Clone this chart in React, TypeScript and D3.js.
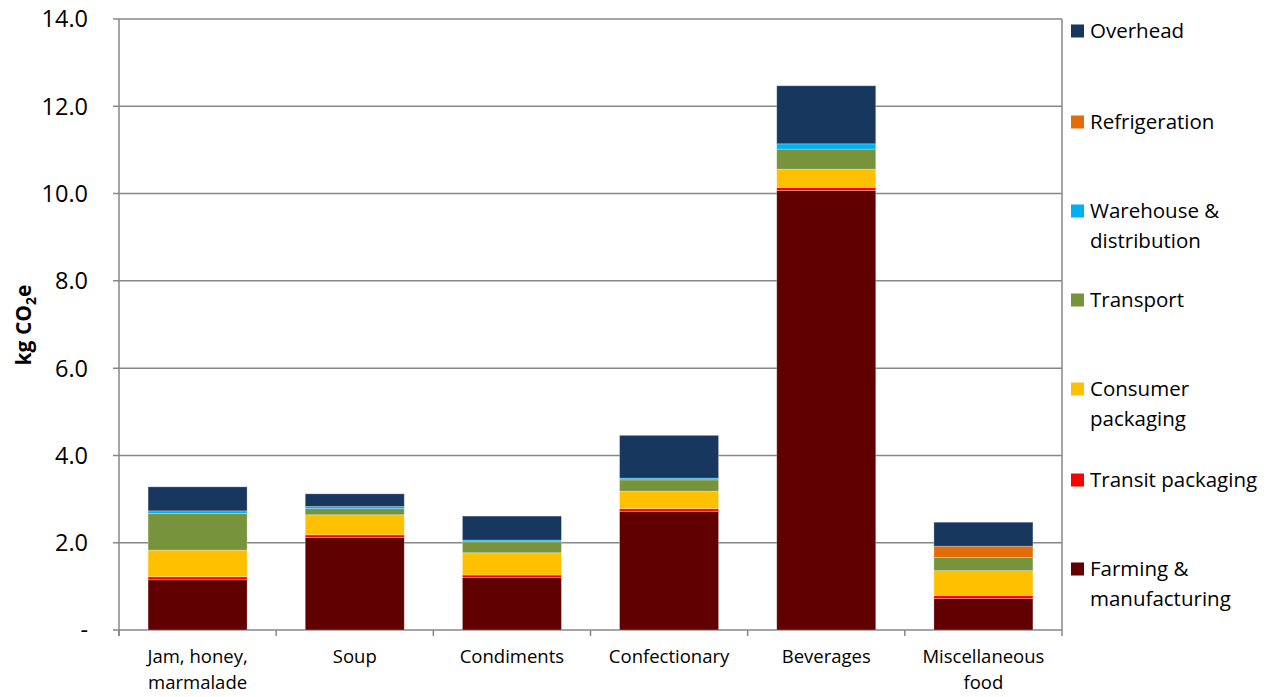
import React from "react";
import * as d3 from "d3";

const categories = [
  ["Jam, honey,", "marmalade"],
  ["Soup"],
  ["Condiments"],
  ["Confectionary"],
  ["Beverages"],
  ["Miscellaneous", "food"],
];

// Stack order, bottom to top
const seriesNames = [
  "Farming & manufacturing",
  "Transit packaging",
  "Consumer packaging",
  "Transport",
  "Warehouse & distribution",
  "Refrigeration",
  "Overhead",
];

const farming = [1.15, 2.12, 1.2, 2.72, 10.07, 0.72];
const transit = [0.07, 0.06, 0.06, 0.06, 0.07, 0.07];
const consumer = [0.61, 0.46, 0.51, 0.4, 0.42, 0.57];
const transport = [0.84, 0.14, 0.25, 0.26, 0.46, 0.3];
const warehouse = [0.06, 0.05, 0.04, 0.04, 0.12, 0.0];
const refrigeration = [0.0, 0.0, 0.0, 0.0, 0.0, 0.26];
const overhead = [0.55, 0.29, 0.55, 0.98, 1.33, 0.55];

const seriesValues = [farming, transit, consumer, transport, warehouse, refrigeration, overhead];
const seriesColors = ["#600000", "#FF0000", "#FFC000", "#77933C", "#00B0F0", "#E36C09", "#17375E"];

const yTicks = [0, 2, 4, 6, 8, 10, 12, 14];

// Legend entries, top to bottom
const legendItems = [
  { lines: ["Overhead"], color: "#17375E" },
  { lines: ["Refrigeration"], color: "#E36C09" },
  { lines: ["Warehouse &", "distribution"], color: "#00B0F0" },
  { lines: ["Transport"], color: "#77933C" },
  { lines: ["Consumer", "packaging"], color: "#FFC000" },
  { lines: ["Transit packaging"], color: "#FF0000" },
  { lines: ["Farming &", "manufacturing"], color: "#600000" },
];
const legendY = [31, 122, 211, 300, 389, 480, 569];

export default function App() {
  const W = 1275;
  const H = 697;
  const left = 119;
  const right = 1062;
  const top = 19;
  const bottom = 630;
  const font = "'Open Sans', 'DejaVu Sans', sans-serif";
  const axisColor = "#878787";

  const x = d3
    .scaleBand<number>()
    .domain(d3.range(categories.length))
    .range([left, right])
    .paddingInner(0.37)
    .paddingOuter(0.185);
  const y = d3.scaleLinear().domain([0, 14]).range([bottom, top]);

  const rows = categories.map((_, i) => {
    const r: Record<string, number> = {};
    seriesNames.forEach((s, k) => (r[s] = seriesValues[k][i]));
    return r;
  });
  const stacked = d3.stack<Record<string, number>>().keys(seriesNames)(rows);

  const catEdges = d3.range(categories.length + 1).map((i) => left + i * ((right - left) / categories.length));

  return (
    <svg width={W} height={H} style={{ display: "block", position: "absolute", left: 0, top: 0 }}>
      <rect width={W} height={H} fill="#fff" />
      {/* gridlines and y tick labels */}
      {yTicks.map((t) => (
        <g key={t}>
          <line x1={left - 6} x2={right} y1={y(t)} y2={y(t)} stroke={axisColor} strokeWidth={1.5} />
          <text
            x={88}
            y={y(t)}
            dy="0.36em"
            textAnchor="end"
            fontFamily={font}
            fontSize={23.5}
            fill="#000"
          >
            {t === 0 ? "-" : d3.format(".1f")(t)}
          </text>
        </g>
      ))}
      {/* axes */}
      <line x1={left} x2={left} y1={top} y2={bottom + 6} stroke={axisColor} strokeWidth={1.5} />
      <line x1={right} x2={right} y1={top} y2={bottom} stroke={axisColor} strokeWidth={1.5} />
      {catEdges.map((cx, i) => (
        <line key={i} x1={cx} x2={cx} y1={bottom} y2={bottom + 6} stroke={axisColor} strokeWidth={1.5} />
      ))}
      {/* stacked bars */}
      {stacked.map((layer, k) => (
        <g key={seriesNames[k]}>
          {layer.map((d, i) =>
            d[1] - d[0] > 0 ? (
              <rect
                key={i}
                x={x(i)}
                width={x.bandwidth()}
                y={y(d[1])}
                height={y(d[0]) - y(d[1])}
                fill={seriesColors[k]}
                stroke="rgba(255,255,255,0.35)"
                strokeWidth={0.8}
              />
            ) : null
          )}
        </g>
      ))}
      {/* category labels */}
      {categories.map((lines, i) => (
        <text
          key={i}
          y={657}
          textAnchor="middle"
          fontFamily={font}
          fontSize={18.5}
          fill="#000"
        >
          {lines.map((l, j) => (
            <tspan key={j} x={(x(i) as number) + x.bandwidth() / 2} dy={j === 0 ? "0.35em" : 26}>
              {l}
            </tspan>
          ))}
        </text>
      ))}
      {/* y title */}
      <text
        transform={`translate(31, 325) rotate(-90)`}
        textAnchor="middle"
        fontFamily={font}
        fontSize={21}
        fontWeight="bold"
        fill="#000"
      >
        kg CO
        <tspan fontSize={14} dy={5}>2</tspan>
        <tspan dy={-5}>e</tspan>
      </text>
      {/* legend */}
      {legendItems.map((it, i) => (
        <g key={i}>
          <rect x={1071} y={legendY[i] - 6.5} width={13} height={13} fill={it.color} />
          {it.lines.map((l, j) => (
            <text
              key={j}
              x={1090}
              y={legendY[i] + j * 29.5}
              dy="0.36em"
              fontFamily={font}
              fontSize={20.5}
              fill="#000"
            >
              {l}
            </text>
          ))}
        </g>
      ))}
    </svg>
  );
}
